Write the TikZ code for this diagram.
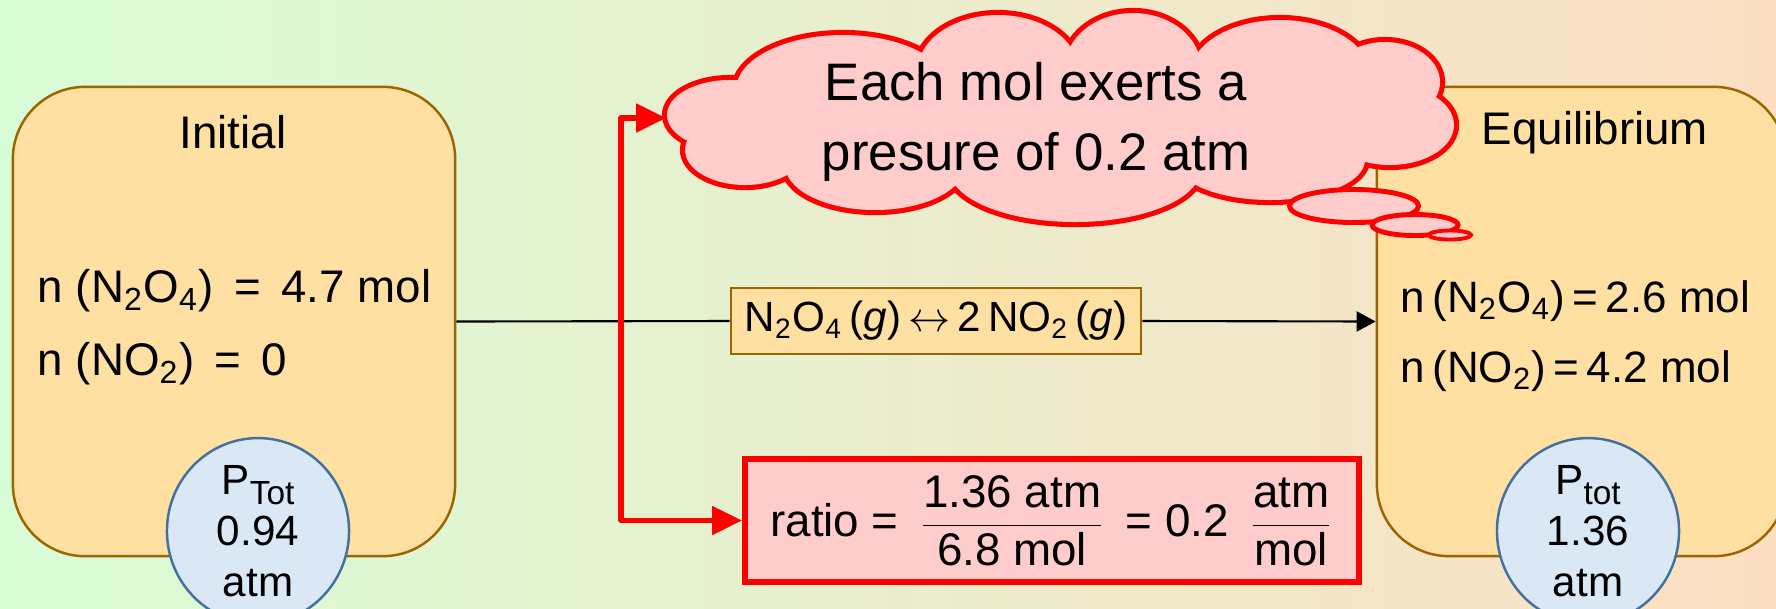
\documentclass[tikz,border=0pt]{standalone}
\usepackage{fontspec}
\usepackage{amsmath}
\setmainfont{Liberation Sans}
\usetikzlibrary{
    arrows.meta,
    positioning,
    shapes.geometric
}
\definecolor{bgleft}{HTML}{D8FCD6}
\definecolor{bgmid}{HTML}{EAF1CF}
\definecolor{bgright}{HTML}{FCDFC3}
\definecolor{boxfill}{HTML}{FFE0A3}
\definecolor{boxline}{HTML}{9C6500}
\definecolor{pfill}{HTML}{DAE7F5}
\definecolor{pline}{HTML}{41719C}
\definecolor{cloudfill}{HTML}{FFCCCC}
\newcommand{\chemsub}[1]{\textsubscript{#1}}
\newcommand{\psub}[1]{\raisebox{-0.45ex}{\fontsize{9.5}{10}\selectfont #1}}

\begin{document}
\begin{tikzpicture}[
    x=0.01cm, y=-0.01cm,
    statebox/.style={rectangle, draw=boxline, fill=boxfill, line width=0.7pt, rounded corners=0.72cm, minimum height=4.69cm, minimum width=#1, inner sep=0pt},
    ptotal/.style={ellipse, draw=pline, fill=pfill, line width=0.7pt, minimum width=1.82cm, minimum height=1.64cm, inner sep=0pt, align=center, font=\fontsize{12}{14.5}\selectfont},
    amount/.style={anchor=west, inner sep=0pt, font=\fontsize{13}{15}\selectfont},
    title/.style={inner sep=0pt, font=\fontsize{13}{15}\selectfont},
    redline/.style={draw=red, line width=1.45pt, line join=round},
    bubble/.style={ellipse, draw=red, fill=cloudfill, line width=1.4pt, inner sep=0pt},
]
    \useasboundingbox (0,0) rectangle (1776,608);
    \shade[left color=bgleft, middle color=bgmid, right color=bgright] (0,0) rectangle (1776,608);

    % Initial
    \node[statebox=4.42cm] (initbox) at (234,321.5) {};
    \node[title] (inittitle) at (233,132) {Initial};
    \node[amount] (initn2o4) at (37,291) {n (N\chemsub{2}O\chemsub{4}) \,=\, 4.7 mol};
    \node[amount] (initno2) at (37,364) {n (NO\chemsub{2}) \,=\, 0};
    \node[ptotal] (initp) at (258,531) {P\psub{Tot}\\0.94\\atm};

    % Equilibrium
    \node[statebox=4.09cm] (eqmbox) at (1581.5,321.5) {};
    \node[title] (eqmtitle) at (1595,133) {Equilibrium};
    \node[amount, font=\fontsize{12.5}{15}\selectfont] (eqmn2o4) at (1400,301) {n\,(N\chemsub{2}O\chemsub{4})\,=\,2.6 mol};
    \node[amount, font=\fontsize{12.5}{15}\selectfont] (eqmno2) at (1400,371) {n\,(NO\chemsub{2})\,=\,4.2 mol};
    \node[ptotal] (eqmp) at (1588,531) {P\psub{tot}\\1.36\\atm};

    % Reaction
    \node[rectangle, draw=boxline, fill=boxfill, line width=0.7pt, minimum width=4.10cm, minimum height=0.66cm, inner sep=0pt, font=\fontsize{12}{14}\selectfont] (reaction) at (936,321) {N\chemsub{2}O\chemsub{4}\,(\textit{g})\,$\leftrightarrow$\,2\,NO\chemsub{2}\,(\textit{g})};
    \draw[line width=0.6pt] (initbox.east) -- (reaction.west);
    \draw[line width=0.6pt, -{Triangle[length=0.19cm, width=0.2cm]}] (reaction.east) -- (eqmbox.west);

    % Ratio
    \node[rectangle, draw=red, fill=cloudfill, line width=1.6pt, minimum width=6.14cm, minimum height=1.23cm, inner sep=0pt, font=\fontsize{13}{15}\selectfont] (ratio) at (1052,520.5) {ratio = \,$\dfrac{\text{1.36 atm}}{\text{6.8 mol}}$\, = 0.2 \,$\dfrac{\text{atm}}{\text{mol}}$};

    % Thought cloud: puffs outlined, then filled over
    \foreach \cx/\cy/\rx/\ry in {843/90/107/55, 998/70/80/55, 1133/68/68/55, 1280/75/90/55, 1385/82/55/40,
        1390/125/64/40, 1270/160/95/40, 1075/170/125/52, 875/165/90/45, 745/150/60/35, 730/115/63/35}
        \draw[red, line width=2.9pt] (\cx,\cy) ellipse [x radius=\rx, y radius=\ry];
    \foreach \cx/\cy/\rx/\ry in {843/90/107/55, 998/70/80/55, 1133/68/68/55, 1280/75/90/55, 1385/82/55/40,
        1390/125/64/40, 1270/160/95/40, 1075/170/125/52, 875/165/90/45, 745/150/60/35, 730/115/63/35, 1060/118/320/72}
        \fill[cloudfill] (\cx,\cy) ellipse [x radius=\rx, y radius=\ry];
    \node[ellipse, inner sep=0pt, minimum width=7.87cm, minimum height=2.09cm] (thought) at (1060.5,118) {};
    \node[align=center, inner sep=0pt, font=\fontsize{15}{20}\selectfont] (thoughttext) at (1036,122) {Each mol exerts a\\presure of 0.2 atm};
    \node[bubble, minimum width=1.29cm, minimum height=0.33cm] (bubA) at (1354,206) {};
    \node[bubble, minimum width=0.86cm, minimum height=0.21cm] (bubB) at (1415,225) {};
    \node[bubble, minimum width=0.42cm, minimum height=0.09cm, line width=1.1pt] (bubC) at (1450,235) {};

    % Red connector
    \coordinate (redbend) at (621,118);
    \draw[redline, {Triangle[length=0.30cm, width=0.28cm]}-{Triangle[length=0.30cm, width=0.28cm]}] (thought.west) -- (thought.west -| redbend) -- (ratio.west -| redbend) -- (ratio.west);

\end{tikzpicture}
\end{document}
